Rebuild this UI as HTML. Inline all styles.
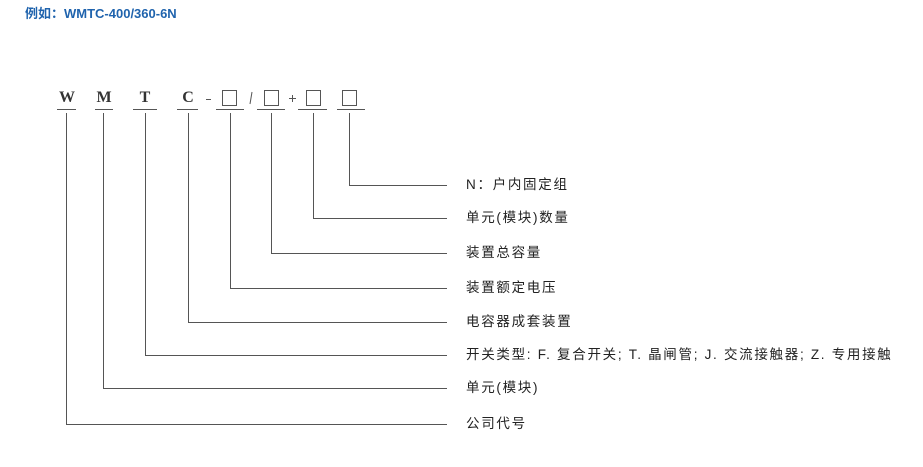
<!DOCTYPE html>
<html><head><meta charset="utf-8"><style>
html,body{margin:0;padding:0;background:#fff;width:923px;height:467px;overflow:hidden;position:relative}
.t{position:absolute;left:25px;top:3px;font:bold 13px "Liberation Sans","Noto Sans CJK SC",sans-serif;color:#1f63ad}
.l{position:absolute;left:466px;font:13.5px "Liberation Sans","Noto Sans CJK SC",sans-serif;color:#222;letter-spacing:1.7px;white-space:nowrap;line-height:16px}
.c{position:absolute;font:bold 16px "Liberation Serif",serif;color:#333;text-align:center;width:30px;top:89px}
</style></head><body>
<div class="t">例如：WMTC-400/360-6N</div>
<svg width="923" height="467" style="position:absolute;left:0;top:0">
<g stroke="#555" stroke-width="1" fill="none">
<path d="M57 109.5H76M95 109.5H113M133 109.5H157M177 109.5H198M216 109.5H244M257 109.5H285M298 109.5H327M337 109.5H365"/>
<rect x="222.5" y="90.5" width="14" height="15"/>
<rect x="264.5" y="90.5" width="14" height="15"/>
<rect x="306.5" y="90.5" width="14" height="15"/>
<rect x="342.5" y="90.5" width="14" height="15"/>
<path d="M349.5 113V185.5H447"/>
<path d="M313.5 113V218.5H447"/>
<path d="M271.5 113V253.5H447"/>
<path d="M230.5 113V288.5H447"/>
<path d="M188.5 113V322.5H447"/>
<path d="M145.5 113V355.5H447"/>
<path d="M103.5 113V388.5H447"/>
<path d="M66.5 113V424.5H447"/>
<path d="M206 99.5H211M252 92L250 104M289 98.5H296M292.5 95V102"/>
</g></svg>
<div class="c" style="left:52px">W</div>
<div class="c" style="left:89px">M</div>
<div class="c" style="left:130px">T</div>
<div class="c" style="left:173px">C</div>
<div class="l" style="top:177px">N：户内固定组</div>
<div class="l" style="top:210px">单元(模块)数量</div>
<div class="l" style="top:245px">装置总容量</div>
<div class="l" style="top:280px">装置额定电压</div>
<div class="l" style="top:314px">电容器成套装置</div>
<div class="l" style="top:347px">开关类型: F. 复合开关; T. 晶闸管; J. 交流接触器; Z. 专用接触</div>
<div class="l" style="top:380px">单元(模块)</div>
<div class="l" style="top:416px">公司代号</div>
</body></html>
